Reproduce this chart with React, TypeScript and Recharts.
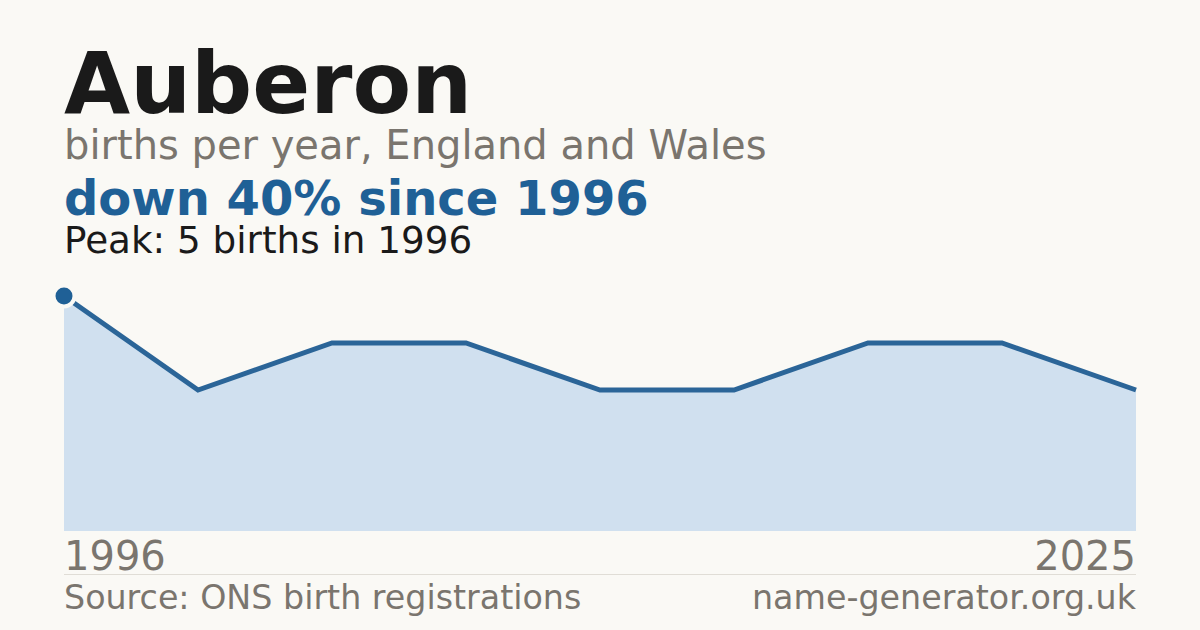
import { AreaChart, Area, XAxis, YAxis } from 'recharts'

const years = [1996, 2000, 2003, 2007, 2011, 2014, 2018, 2022, 2025]
const births = [5, 3, 4, 4, 3, 3, 4, 4, 3]
const tickYears = [1996, 2025]

const BG = '#faf9f5'
const GREY = '#7a756e'
const BLUE = '#1f6096'
const INK = '#1a1a1a'
const FONT = '"DejaVu Sans", sans-serif'

const data = years.map((year, i) => ({ year, births: births[i] }))

function YearTick(props: any) {
  const { x, y, payload } = props
  const last = payload.value === tickYears[tickYears.length - 1]
  return (
    <text x={x} y={y + 39} textAnchor={last ? 'end' : 'start'} fill={GREY} fontSize={40} fontFamily={FONT}>
      {payload.value}
    </text>
  )
}

function PeakDot(props: any) {
  const { cx, cy, index } = props
  if (index !== 0) return <g key={index} />
  return <circle key={index} cx={cx} cy={cy} r={10.5} fill={BLUE} stroke={BG} strokeWidth={4} />
}

export default function App() {
  return (
    <div style={{ position: 'absolute', left: 0, top: 0, width: 1200, height: 630, background: BG, fontFamily: FONT, overflow: 'hidden' }}>
      <svg width={1200} height={630} style={{ position: 'absolute', left: 0, top: 0 }}>
        <text x={64} y={113} fontSize={85.5} fontWeight="bold" fill={INK} fontFamily={FONT}>Auberon</text>
        <text x={64} y={159} fontSize={40} fill={GREY} fontFamily={FONT}>births per year, England and Wales</text>
        <text x={64} y={215} fontSize={48} fontWeight="bold" fill={BLUE} fontFamily={FONT}>down 40% since 1996</text>
        <text x={64} y={253} fontSize={37.3} fill={INK} fontFamily={FONT}>Peak: 5 births in 1996</text>
        <line x1={64} x2={1136} y1={574.5} y2={574.5} stroke="#e0ddd6" strokeWidth={1} />
        <text x={64} y={609} fontSize={33.3} fill={GREY} fontFamily={FONT}>Source: ONS birth registrations</text>
        <text x={1136} y={609} fontSize={33.3} fill={GREY} fontFamily={FONT} textAnchor="end">name-generator.org.uk</text>
      </svg>
      <div style={{ position: 'absolute', left: 0, top: 0 }}>
        <AreaChart width={1200} height={630} data={data} margin={{ top: 296, right: 64, bottom: 59, left: 64 }}>
          <XAxis
            dataKey="year"
            ticks={tickYears}
            interval={0}
            height={40}
            axisLine={false}
            tickLine={false}
            tickSize={0}
            tickMargin={0}
            tick={<YearTick />}
          />
          <YAxis hide domain={[0, 5]} />
          <Area
            type="linear"
            dataKey="births"
            stroke="#2b6598"
            strokeWidth={5}
            fill="#d0e0ef"
            fillOpacity={1}
            dot={PeakDot}
            activeDot={false}
            isAnimationActive={false}
          />
        </AreaChart>
      </div>
    </div>
  )
}
